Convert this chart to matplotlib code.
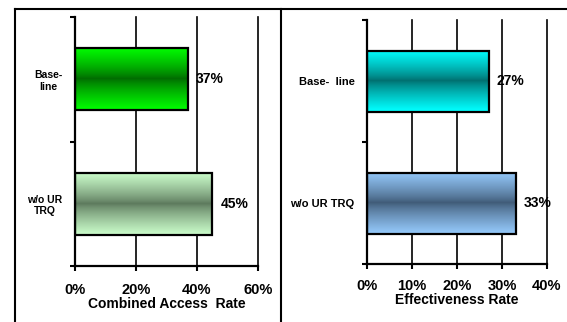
import numpy as np
import matplotlib
matplotlib.use("Agg")
import matplotlib.pyplot as plt
from matplotlib.lines import Line2D
from matplotlib.colors import to_rgb
from matplotlib.ticker import FuncFormatter

plt.rcParams['font.family'] = ['Liberation Sans', 'DejaVu Sans']
plt.rcParams['font.weight'] = 'bold'

# Combined access rate panel
access_categories = ["Base-\nline", "w/o UR\nTRQ"]
access_values = [37, 45]
access_ticks = [0, 20, 40, 60]

# Effectiveness rate panel
effect_categories = ["Base-  line", "w/o UR TRQ"]
effect_values = [27, 33]
effect_ticks = [0, 10, 20, 30, 40]

# (edge colour, centre colour) for each bar's shading
access_shades = [("#00ff00", "#006a00"), ("#ccffcc", "#5c785c")]
effect_shades = [("#00ffff", "#006e6e"), ("#94c8fa", "#3f5a76")]

W, H, DPI = 567, 322, 100
fig = plt.figure(figsize=(W / DPI, H / DPI), dpi=DPI)


def px_axes(x0, x1, ytop, ybot):
    return fig.add_axes([x0 / W, 1 - ybot / H, (x1 - x0) / W, (ybot - ytop) / H])


def shaded_bar(ax, rect, light, dark):
    x, y, w, h = rect.get_x(), rect.get_y(), rect.get_width(), rect.get_height()
    n = 200
    t = np.abs(np.linspace(-1, 1, n))
    f = t ** 0.8
    lc, dc = np.array(to_rgb(light)), np.array(to_rgb(dark))
    img = dc[None, :] + (lc - dc)[None, :] * f[:, None]
    img = np.repeat(img[:, None, :], 2, axis=1)
    ax.imshow(img, extent=[x, x + w, y + h, y], aspect='auto',
              interpolation='bilinear', zorder=2, origin='upper')


def panel(ax, cats, vals, ticks, shades, xlabel, cat_size, tick_pad, label_pad):
    ypos = np.arange(len(cats))
    bars = ax.barh(ypos, vals, height=0.5, facecolor='none',
                   edgecolor='black', linewidth=1.6, zorder=3)
    for rect, (light, dark) in zip(bars, shades):
        shaded_bar(ax, rect, light, dark)
    for rect, v in zip(bars, vals):
        ax.text(rect.get_width() + ticks[-1] * 0.045, rect.get_y() + rect.get_height() / 2,
                f"{v}%", va='center', ha='left', fontsize=10, fontweight='bold', zorder=4)

    ax.set_xlim(ticks[0], ticks[-1])
    ax.set_ylim(len(cats) - 0.5, -0.5)
    ax.set_xticks(ticks)
    ax.xaxis.set_major_formatter(FuncFormatter(lambda v, p: f"{v:.0f}%"))
    ax.tick_params(axis='x', length=3.5, width=1.5, pad=tick_pad, labelsize=10.5)
    ax.set_yticks(ypos)
    ax.set_yticklabels(cats, fontsize=cat_size, fontweight='bold', multialignment='center')
    ax.set_yticks(np.arange(len(cats) + 1) - 0.5, minor=True)
    ax.tick_params(axis='y', which='major', length=0, pad=label_pad)
    ax.tick_params(axis='y', which='minor', length=3.5, width=1.5)
    ax.grid(axis='x', color='black', linewidth=1.2, zorder=1)
    for gl in ax.get_xgridlines():
        gl.set_clip_on(False)
    ax.set_axisbelow(True)
    for side in ('top', 'right'):
        ax.spines[side].set_visible(False)
    for side in ('left', 'bottom'):
        ax.spines[side].set_linewidth(1.6)
        ax.spines[side].set_zorder(5)
    ax.set_xlabel(xlabel, fontsize=10, fontweight='bold', labelpad=0)


ax1 = px_axes(75, 258, 17, 266)
panel(ax1, access_categories, access_values, access_ticks, access_shades,
      "Combined Access  Rate", 7.5, 9, 9)

ax2 = px_axes(367, 547, 20, 264)
panel(ax2, effect_categories, effect_values, effect_ticks, effect_shades,
      "Effectiveness Rate", 8, 7, 9)

# surrounding frame lines
frame = dict(color='black', linewidth=1.5, transform=fig.transFigure)
fig.add_artist(Line2D([15 / W, 15 / W], [0, 1 - 9 / H], **frame))
fig.add_artist(Line2D([15 / W, 1], [1 - 9 / H, 1 - 9 / H], **frame))
fig.add_artist(Line2D([281 / W, 281 / W], [0, 1 - 9 / H], **frame))

fig.savefig("out.png", dpi=DPI)
